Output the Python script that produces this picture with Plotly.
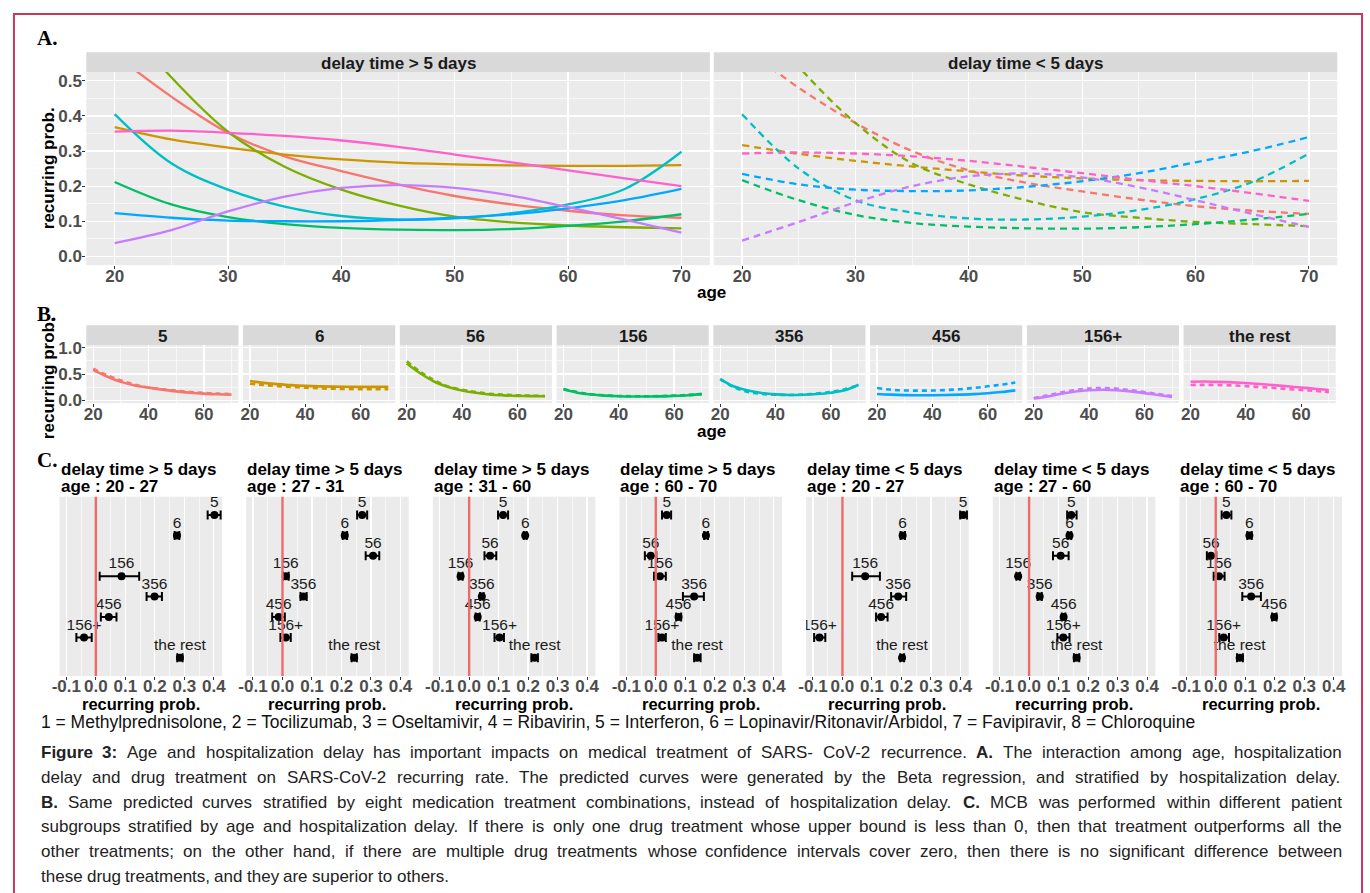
import plotly.graph_objects as go

W, H = 1370, 893
FONT = "Liberation Sans, Arial, Helvetica, sans-serif"
SERIF = "Liberation Serif, Times New Roman, serif"

# ---------------- data ----------------
ages = [20, 25, 30, 35, 40, 45, 50, 55, 60, 65, 70]
groups = ["5", "6", "56", "156", "356", "456", "156+", "the rest"]
group_colors = ["#F8766D", "#CD9600", "#7CAE00", "#00BE67", "#00BFC4", "#00A9FF", "#C77CFF", "#FF61CC"]
facet_titles_a = ["delay time > 5 days", "delay time < 5 days"]

# delay time > 5 days (solid)
late_5 = [0.575, 0.455, 0.352, 0.285, 0.243, 0.205, 0.172, 0.148, 0.130, 0.117, 0.110]
late_6 = [0.368, 0.333, 0.310, 0.290, 0.276, 0.267, 0.262, 0.259, 0.258, 0.258, 0.260]
late_56 = [0.700, 0.510, 0.355, 0.255, 0.190, 0.145, 0.113, 0.097, 0.088, 0.083, 0.080]
late_156 = [0.212, 0.148, 0.112, 0.092, 0.081, 0.076, 0.075, 0.078, 0.087, 0.100, 0.120]
late_356 = [0.405, 0.265, 0.190, 0.142, 0.115, 0.105, 0.108, 0.123, 0.148, 0.192, 0.298]
late_456 = [0.123, 0.110, 0.102, 0.100, 0.100, 0.103, 0.110, 0.120, 0.137, 0.160, 0.192]
late_156p = [0.038, 0.075, 0.128, 0.170, 0.195, 0.203, 0.195, 0.173, 0.140, 0.105, 0.068]
late_rest = [0.355, 0.358, 0.352, 0.343, 0.330, 0.312, 0.290, 0.268, 0.245, 0.222, 0.200]

# delay time < 5 days (dashed)
early_5 = [0.600, 0.480, 0.380, 0.300, 0.245, 0.210, 0.185, 0.162, 0.143, 0.130, 0.121]
early_6 = [0.317, 0.292, 0.272, 0.256, 0.242, 0.230, 0.222, 0.217, 0.215, 0.214, 0.215]
early_56 = [0.740, 0.540, 0.380, 0.265, 0.205, 0.160, 0.126, 0.110, 0.098, 0.092, 0.086]
early_156 = [0.217, 0.160, 0.118, 0.095, 0.085, 0.080, 0.079, 0.083, 0.092, 0.105, 0.121]
early_356 = [0.405, 0.250, 0.160, 0.125, 0.108, 0.105, 0.113, 0.132, 0.163, 0.212, 0.293]
early_456 = [0.235, 0.205, 0.190, 0.186, 0.188, 0.198, 0.214, 0.237, 0.268, 0.300, 0.340]
early_156p = [0.045, 0.098, 0.154, 0.200, 0.228, 0.236, 0.225, 0.197, 0.160, 0.121, 0.084]
early_rest = [0.293, 0.296, 0.293, 0.285, 0.272, 0.255, 0.237, 0.218, 0.200, 0.180, 0.158]

late = [late_5, late_6, late_56, late_156, late_356, late_456, late_156p, late_rest]
early = [early_5, early_6, early_56, early_156, early_356, early_456, early_156p, early_rest]

# Panel C: MCB estimates and intervals (order of groups)
c_title1 = ["delay time > 5 days"] * 4 + ["delay time < 5 days"] * 3
c_title2 = ["age : 20 - 27", "age : 27 - 31", "age : 31 - 60", "age : 60 - 70",
            "age : 20 - 27", "age : 27 - 60", "age : 60 - 70"]
c1_est = [0.402, 0.275, None, 0.087, 0.199, 0.044, -0.040, 0.285]
c1_lo = [0.379, 0.267, None, 0.013, 0.172, 0.017, -0.066, 0.276]
c1_hi = [0.423, 0.283, None, 0.147, 0.224, 0.070, -0.014, 0.294]
c2_est = [0.270, 0.211, 0.307, 0.011, 0.071, -0.013, 0.011, 0.243]
c2_lo = [0.253, 0.204, 0.282, 0.002, 0.061, -0.035, -0.007, 0.234]
c2_hi = [0.287, 0.219, 0.328, 0.021, 0.082, 0.008, 0.028, 0.252]
c3_est = [0.115, 0.190, 0.071, -0.029, 0.043, 0.029, 0.103, 0.222]
c3_lo = [0.098, 0.185, 0.052, -0.036, 0.037, 0.022, 0.086, 0.211]
c3_hi = [0.132, 0.195, 0.092, -0.022, 0.049, 0.036, 0.118, 0.233]
c4_est = [0.037, 0.170, -0.017, 0.014, 0.130, 0.077, 0.021, 0.140]
c4_lo = [0.021, 0.164, -0.037, -0.006, 0.092, 0.069, 0.009, 0.130]
c4_hi = [0.052, 0.177, 0.002, 0.034, 0.163, 0.086, 0.034, 0.152]
c5_est = [0.409, 0.204, None, 0.077, 0.189, 0.131, -0.078, 0.202]
c5_lo = [0.399, 0.197, None, 0.033, 0.165, 0.114, -0.096, 0.196]
c5_hi = [0.422, 0.212, None, 0.127, 0.216, 0.153, -0.058, 0.209]
c6_est = [0.143, 0.137, 0.107, -0.037, 0.036, 0.117, 0.116, 0.161]
c6_lo = [0.129, 0.131, 0.081, -0.043, 0.029, 0.111, 0.096, 0.152]
c6_hi = [0.161, 0.143, 0.134, -0.031, 0.043, 0.123, 0.137, 0.170]
c7_est = [0.036, 0.114, -0.016, 0.011, 0.120, 0.198, 0.027, 0.081]
c7_lo = [0.020, 0.107, -0.030, -0.007, 0.090, 0.191, 0.012, 0.072]
c7_hi = [0.053, 0.122, 0.002, 0.030, 0.153, 0.206, 0.045, 0.092]
c_est = [c1_est, c2_est, c3_est, c4_est, c5_est, c6_est, c7_est]
c_lo = [c1_lo, c2_lo, c3_lo, c4_lo, c5_lo, c6_lo, c7_lo]
c_hi = [c1_hi, c2_hi, c3_hi, c4_hi, c5_hi, c6_hi, c7_hi]

a_xticks = [20, 30, 40, 50, 60, 70]
a_yticks = [0.0, 0.1, 0.2, 0.3, 0.4, 0.5]
b_xticks = [20, 40, 60]
b_yticks = [0.0, 0.5, 1.0]
c_xticks = [-0.1, 0.0, 0.1, 0.2, 0.3, 0.4]

footnote = ("1 = Methylprednisolone, 2 = Tocilizumab, 3 = Oseltamivir, 4 = Ribavirin, 5 = Interferon, "
            "6 = Lopinavir/Ritonavir/Arbidol, 7 = Favipiravir, 8 = Chloroquine")
caption_lines = [
    "*Figure *3: Age and hospitalization delay has important impacts on medical treatment of SARS- CoV-2 recurrence. *A. The interaction among age, hospitalization",
    "delay and drug treatment on SARS-CoV-2 recurring rate. The predicted curves were generated by the Beta regression, and stratified by hospitalization delay.",
    "*B. Same predicted curves stratified by eight medication treatment combinations, instead of hospitalization delay. *C. MCB was performed within different patient",
    "subgroups stratified by age and hospitalization delay. If there is only one drug treatment whose upper bound is less than 0, then that treatment outperforms all the",
    "other treatments; on the other hand, if there are multiple drug treatments whose confidence intervals cover zero, then there is no significant difference between",
    "these drug treatments, and they are superior to others.",
]

# ---------------- helpers ----------------
def xd(a, b):
    return [a / W, b / W]


def yd(top, bottom):
    return [1 - bottom / H, 1 - top / H]


def fx(p):
    return p / W


def fy(p):
    return 1 - p / H


TICKFONT = dict(family=FONT, size=17, color="#4D4D4D", weight="bold")


def fmt1(v):
    return "%.1f" % v


def make_axis(domain, rng, anchor, tickvals=None, minor_vals=None, show_labels=True,
              show_ticks=True, grid=True, standoff=0):
    ax = dict(domain=domain, range=rng, anchor=anchor, zeroline=False, showline=False,
              showgrid=grid, gridcolor="white", gridwidth=1.3,
              ticks="outside" if show_ticks else "", ticklen=3, tickwidth=1, tickcolor="#333333",
              showticklabels=show_labels, tickfont=TICKFONT, fixedrange=True,
              ticklabelstandoff=standoff)
    if tickvals is not None:
        ax.update(tickmode="array", tickvals=tickvals,
                  ticktext=[fmt1(v) if isinstance(v, float) else str(v) for v in tickvals])
    else:
        ax.update(showticklabels=False, ticks="")
    if minor_vals is not None:
        ax["minor"] = dict(tickmode="array", tickvals=minor_vals, showgrid=True,
                           gridcolor="white", gridwidth=0.6, ticks="")
    return ax


def axname(n, kind):
    return kind + "axis" + ("" if n == 1 else str(n))


def axref(n, kind):
    return kind + ("" if n == 1 else str(n))


fig = go.Figure()
layout_axes = {}
shapes = []
annotations = []


def add_ann(text, x, y, size=17, bold=False, color="#000000", xanchor="center", angle=0, family=FONT):
    annotations.append(dict(text=("<b>%s</b>" % text) if bold else text, x=fx(x), y=fy(y),
                            xref="paper", yref="paper", showarrow=False, xanchor=xanchor,
                            yanchor="middle", textangle=angle, borderpad=0, borderwidth=0,
                            font=dict(family=family, size=size, color=color)))


def strip(x0, x1, y0, y1, text):
    shapes.append(dict(type="rect", xref="paper", yref="paper", x0=fx(x0), x1=fx(x1),
                       y0=fy(y1), y1=fy(y0), fillcolor="#D9D9D9", line=dict(width=0), layer="below"))
    add_ann(text, (x0 + x1) / 2, (y0 + y1) / 2 + 1, size=17, bold=True, color="#1A1A1A")


XSTAND = -8
YSTAND = -3

# ---------------- Panel A ----------------
a_panels = [(79, 708), (712, 1341)]
a_top, a_bot = 67, 263
for k, (x0, x1) in enumerate(a_panels):
    n = k + 1
    layout_axes[axname(n, "x")] = make_axis(xd(x0, x1), [17.5, 72.5], axref(n, "y"),
                                            a_xticks, [25, 35, 45, 55, 65], standoff=XSTAND)
    layout_axes[axname(n, "y")] = make_axis(yd(a_top, a_bot), [-0.025, 0.525], axref(n, "x"),
                                            a_yticks, [0.05, 0.15, 0.25, 0.35, 0.45],
                                            show_labels=(k == 0), show_ticks=(k == 0), standoff=YSTAND)
    strip(x0, x1, 47, 67, facet_titles_a[k])
    series = late if k == 0 else early
    for g, col, vals in zip(groups, group_colors, series):
        fig.add_trace(go.Scatter(
            x=ages, y=vals, mode="lines", name=g,
            line=dict(color=col, width=2.3, shape="spline",
                      dash="solid" if k == 0 else "7px,5px"),
            xaxis=axref(n, "x"), yaxis=axref(n, "y"), hoverinfo="skip"))

add_ann("recurring prob.", 41, 165, size=17, bold=True, angle=-90)
add_ann("age", 710, 291, size=17, bold=True)
add_ann("A.", 29, 32, size=21, bold=True, xanchor="left", family=SERIF)

# ---------------- Panel B ----------------
b_top, b_bot = 344, 403
b_w, b_step = 153.5, 158.14
for i, g in enumerate(groups):
    n = 3 + i
    x0 = 79 + i * b_step
    x1 = x0 + b_w
    layout_axes[axname(n, "x")] = make_axis(xd(x0, x1), [17.5, 72.5], axref(n, "y"),
                                            b_xticks, [30, 50, 70], standoff=XSTAND)
    layout_axes[axname(n, "y")] = make_axis(yd(b_top, b_bot), [-0.05, 1.05], axref(n, "x"),
                                            b_yticks, [0.25, 0.75],
                                            show_labels=(i == 0), show_ticks=(i == 0), standoff=YSTAND)
    strip(x0, x1, 324, 344, g)
    fig.add_trace(go.Scatter(x=ages, y=late[i], mode="lines",
                             line=dict(color=group_colors[i], width=2.6, shape="spline"),
                             xaxis=axref(n, "x"), yaxis=axref(n, "y"), hoverinfo="skip"))
    fig.add_trace(go.Scatter(x=ages, y=early[i], mode="lines",
                             line=dict(color=group_colors[i], width=2.6, shape="spline", dash="5px,4px"),
                             xaxis=axref(n, "x"), yaxis=axref(n, "y"), hoverinfo="skip"))

add_ann("recurring prob.", 41, 378, size=17, bold=True, angle=-90)
add_ann("age", 710, 432, size=17, bold=True)
add_ann("B.", 29, 313, size=21, bold=True, xanchor="left", family=SERIF)

# ---------------- Panel C ----------------
c_top, c_bot = 498, 680
c_w, c_step = 164, 188.3
rows = list(range(1, len(groups) + 1))
for j in range(7):
    n = 11 + j
    x0 = 52 + j * c_step
    x1 = x0 + c_w
    layout_axes[axname(n, "x")] = make_axis(xd(x0, x1), [-0.123, 0.428], axref(n, "y"),
                                            c_xticks, [-0.05, 0.05, 0.15, 0.25, 0.35], standoff=-9)
    layout_axes[axname(n, "y")] = make_axis(yd(c_top, c_bot), [8.9, 0.1], axref(n, "x"),
                                            None, None, show_labels=False, show_ticks=False, grid=False)
    est, lo, hi = c_est[j], c_lo[j], c_hi[j]
    xs, ys, ep, em, labs, lys = [], [], [], [], [], []
    for r, g, e, l, h in zip(rows, groups, est, lo, hi):
        if e is None:
            continue
        xs.append(e)
        ys.append(r)
        ep.append(h - e)
        em.append(e - l)
        labs.append(g)
        lys.append(r - 0.57)
    shapes.append(dict(type="line", xref=axref(n, "x"), yref=axref(n, "y") + " domain",
                       x0=0, x1=0, y0=0, y1=1, line=dict(color="#EE6B6B", width=2.4), layer="above"))
    fig.add_trace(go.Scatter(
        x=xs, y=ys, mode="markers", marker=dict(color="black", size=8),
        error_x=dict(type="data", symmetric=False, array=ep, arrayminus=em,
                     color="black", thickness=2, width=4.5),
        xaxis=axref(n, "x"), yaxis=axref(n, "y"), hoverinfo="skip"))
    fig.add_trace(go.Scatter(
        x=xs, y=lys, mode="text", text=labs, textposition="middle center",
        textfont=dict(family=FONT, size=15.5, color="#1A1A1A"), cliponaxis=True,
        xaxis=axref(n, "x"), yaxis=axref(n, "y"), hoverinfo="skip"))
    add_ann(c_title1[j], x0 + 1, 470, size=17, bold=True, xanchor="left")
    add_ann(c_title2[j], x0 + 1, 488, size=17, bold=True, xanchor="left")
    add_ann("recurring prob.", (x0 + x1) / 2, 708, size=16.5, bold=True)

add_ann("C.", 29, 461, size=21, bold=True, xanchor="left", family=SERIF)

# ---------------- footnote & caption ----------------
_reg = {}
for ch, w in zip(" !\"#$%&'()*+,-./", [278, 278, 355, 556, 556, 889, 667, 191, 333, 333, 389, 584, 278, 333, 278, 278]):
    _reg[ch] = w
for ch in "0123456789":
    _reg[ch] = 556
for ch, w in zip(":;<=>?", [278, 278, 584, 584, 584, 556]):
    _reg[ch] = w
for ch, w in zip("ABCDEFGHIJKLMNOPQRSTUVWXYZ",
                 [667, 667, 722, 722, 667, 611, 778, 722, 278, 500, 667, 556, 833, 722, 778, 667, 778, 722, 667, 611, 722, 667, 944, 667, 667, 611]):
    _reg[ch] = w
for ch, w in zip("abcdefghijklmnopqrstuvwxyz",
                 [556, 556, 500, 556, 556, 278, 556, 556, 222, 222, 500, 222, 833, 556, 556, 556, 556, 333, 500, 278, 556, 500, 722, 500, 500, 500]):
    _reg[ch] = w
_bold = {"F": 611, "i": 278, "g": 611, "u": 611, "r": 389, "e": 556, "3": 556, ":": 333,
         "A": 722, ".": 278, "B": 722, "C": 722}


def em_width(s, bold=False):
    tab = _bold if bold else _reg
    return sum(tab.get(c, _reg.get(c, 556)) for c in s) / 1000.0


foot_size = min(17.5, (1192 - 33) / em_width(footnote))
add_ann(footnote, 33, 727, size=foot_size, color="#111111", xanchor="left")

cap_left, cap_right = 33, 1345
parsed = []
for line in caption_lines:
    words = []
    for w in line.split(" "):
        if w.startswith("*"):
            words.append((w[1:], True))
        else:
            words.append((w, False))
    parsed.append(words)
nat = max(sum(em_width(w, b) for w, b in ws) + 0.278 * (len(ws) - 1) for ws in parsed[:-1])
cap_size = min(17.0, (cap_right - cap_left) / nat)
line_y0, line_dy = 758, 25.0
for li, ws in enumerate(parsed):
    widths = [em_width(w, b) * cap_size for w, b in ws]
    if li < len(parsed) - 1:
        gap = (cap_right - cap_left - sum(widths)) / (len(ws) - 1)
    else:
        gap = 0.278 * cap_size
    x = cap_left
    for (w, b), wd in zip(ws, widths):
        add_ann(w, x, line_y0 + li * line_dy, size=cap_size, bold=b, color="#222222", xanchor="left")
        x += wd + gap

# border
shapes.append(dict(type="rect", xref="paper", yref="paper", x0=fx(6), x1=fx(1366),
                   y0=fy(905), y1=fy(8), line=dict(color="#C4385E", width=2), fillcolor="rgba(0,0,0,0)",
                   layer="above"))

fig.update_layout(width=W, height=H, margin=dict(l=0, r=0, t=0, b=0, pad=0),
                  paper_bgcolor="white", plot_bgcolor="#EBEBEB", showlegend=False,
                  font=dict(family=FONT), shapes=shapes, annotations=annotations,
                  **layout_axes)

fig.write_html("out.html", config={"displayModeBar": False, "staticPlot": True},
               post_script="document.body.style.margin='0';document.body.style.overflow='hidden';")
